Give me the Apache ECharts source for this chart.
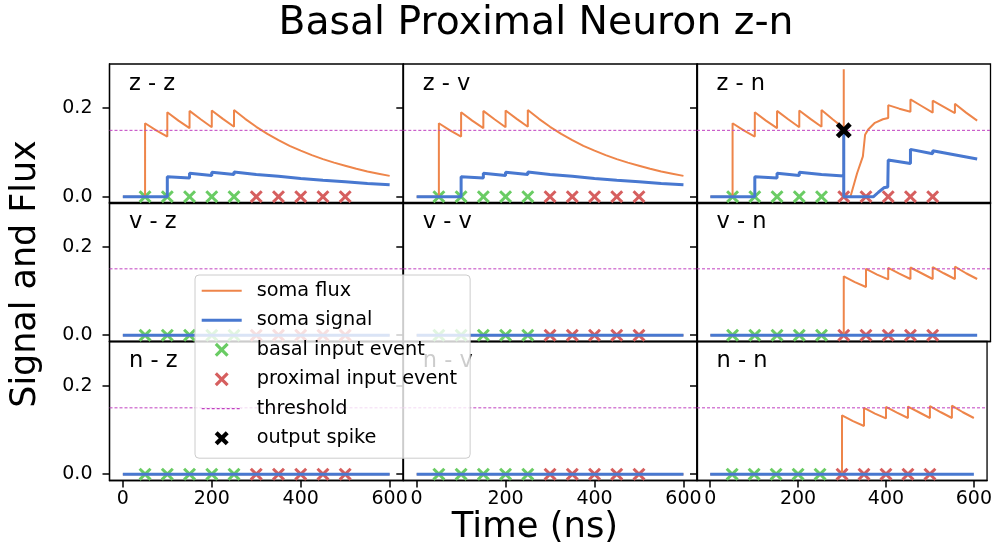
<!DOCTYPE html>
<html>
<head>
<meta charset="utf-8">
<script src="https://cdn.jsdelivr.net/npm/echarts@6/dist/echarts.min.js"></script>
<style>html,body{margin:0;padding:0;background:#fff}#c{width:995px;height:552px}</style>
</head>
<body>
<div id="c"></div>
<script>
// ---------------- data ----------------
const panelLabels = ['z - z', 'z - v', 'z - n', 'v - z', 'v - v', 'v - n', 'n - z', 'n - v', 'n - n'];
const xTicks = [0, 200, 400, 600];
const yTicks = [0, 0.2];
const basalTimes = [50, 100, 150, 200, 250];
const proximalTimes = [300, 350, 400, 450, 500];
const eventLevel = 0;
const threshold = 0.15;
const outputSpikeZN = [[300, 0.15]];

const fluxZZ = [[0,0],[50,0],[50,0.166],[75,0.150],[100,0.136],[100,0.191],[125,0.172],[150,0.155],[150,0.194],[175,0.175],[200,0.157],[200,0.195],[225,0.176],[250,0.158],[250,0.196],
  [275,0.176],[300,0.158],[325,0.142],[350,0.128],[375,0.115],[400,0.104],[425,0.094],[450,0.085],[475,0.077],[500,0.070],[525,0.063],[550,0.057],[575,0.052],[600,0.047]];
const signalZZ = [[0,0],[100,0],[100,0.045],[150,0.042],[150,0.053],[200,0.048],[200,0.055],[250,0.050],[250,0.056],
  [300,0.050],[350,0.046],[400,0.041],[450,0.037],[500,0.034],[550,0.030],[600,0.027]];
const fluxZN = [[0,0],[50,0],[50,0.166],[75,0.150],[100,0.136],[100,0.191],[125,0.172],[150,0.155],[150,0.194],[175,0.175],[200,0.157],[200,0.195],[225,0.176],[250,0.158],[250,0.196],
  [275,0.175],[300,0.155],[300,0.288],[300,0],[315,0],[330,0.053],[343,0.091],[348,0.140],[355,0.152],[370,0.167],[388,0.175],[400,0.178],[400,0.207],[425,0.199],[450,0.192],[450,0.220],
  [475,0.205],[500,0.190],[500,0.217],[525,0.203],[550,0.189],[550,0.210],[575,0.190],[600,0.172]];
const signalZN = [[0,0],[100,0],[100,0.045],[150,0.042],[150,0.053],[200,0.048],[200,0.055],[250,0.050],[250,0.053],[300,0.047],[300,0.148],[300,0],
  [367,0],[378,0.010],[390,0.020],[399,0.022],[400,0.083],[450,0.075],[450,0.107],[500,0.097],[500,0.104],[600,0.085]];
const fluxVN = [[0,0],[300,0],[300,0.133],[325,0.120],[350,0.109],[350,0.150],[375,0.137],[400,0.126],[400,0.152],[425,0.139],[450,0.127],[450,0.153],
  [475,0.140],[500,0.127],[500,0.154],[525,0.140],[550,0.127],[550,0.155],[575,0.140],[600,0.127]];
const zeroLine = [[0,0],[600,0]];

const panelFlux = [fluxZZ, fluxZZ, fluxZN, zeroLine, zeroLine, fluxVN, zeroLine, zeroLine, fluxVN];
const panelSignal = [signalZZ, signalZZ, signalZN, zeroLine, zeroLine, zeroLine, zeroLine, zeroLine, zeroLine];
const panelSpikes = [[], [], outputSpikeZN, [], [], [], [], [], []];

// ---------------- layout / style ----------------
const FONT = 'DejaVu Sans';
const colLeft = [109.5, 403.3, 697];
const colWidth = 293.5;
const rowTop = [64, 202.5, 341.5];
const rowHeight = 139;
const xMin = -30, xMax = 630, yMin = -0.0143, yMax = 0.3;
const C_FLUX = '#EE854A', C_SIG = '#4878D0', C_BASAL = '#6ACC64', C_PROX = '#D65F5F', C_THR = '#C040C0';
const xPath = 'path://M0,1.6L1.6,0L5,3.4L8.4,0L10,1.6L6.6,5L10,8.4L8.4,10L5,6.6L1.6,10L0,8.4L3.4,5Z';
const xPathBold = 'path://M0,2.1L2.1,0L5,2.9L7.9,0L10,2.1L7.1,5L10,7.9L7.9,10L5,7.1L2.1,10L0,7.9L2.9,5Z';
const iconThin = 'path://M0,0L40,0L40,2L0,2Z';
const iconThick = 'path://M0,0L40,0L40,3L0,3Z';
const iconDash = 'path://M0,0L3,0L3,1.2L0,1.2ZM5,0L8,0L8,1.2L5,1.2ZM10,0L13,0L13,1.2L10,1.2ZM15,0L18,0L18,1.2L15,1.2ZM20,0L23,0L23,1.2L20,1.2ZM25,0L28,0L28,1.2L25,1.2ZM30,0L33,0L33,1.2L30,1.2ZM35,0L38,0L38,1.2L35,1.2ZM39.9,0L40,0L40,1.2L39.9,1.2Z';

const tickStyle = {color: '#000', width: 1.5};
const grids = [], xAxes = [], yAxes = [], series = [], graphics = [];
for (let k = 0; k < 9; k++) {
  const r = Math.floor(k / 3), c = k % 3;
  grids.push({left: colLeft[c], top: rowTop[r], width: colWidth, height: rowHeight, show: true,
    borderColor: '#000', borderWidth: 1.3, backgroundColor: 'transparent'});
  xAxes.push({type: 'value', gridIndex: k, min: xMin, max: xMax, position: 'bottom',
    axisLine: {show: true, onZero: false, lineStyle: {color: '#000', width: 1.3}}, splitLine: {show: false},
    axisTick: {show: r === 2, customValues: xTicks, length: 7, lineStyle: tickStyle},
    axisLabel: {show: r === 2, customValues: xTicks, fontSize: 19, fontFamily: FONT, color: '#000', margin: 9}});
  yAxes.push({type: 'value', gridIndex: k, min: yMin, max: yMax, position: 'left',
    axisLine: {show: true, onZero: false, lineStyle: {color: '#000', width: 1.3}}, splitLine: {show: false},
    axisTick: {show: true, customValues: yTicks, length: 7, lineStyle: tickStyle},
    axisLabel: {show: c === 0, customValues: yTicks, fontSize: 19, fontFamily: FONT, color: '#000', margin: 17,
      formatter: v => v.toFixed(1)}});
  series.push({name: 'basal input event', type: 'scatter', xAxisIndex: k, yAxisIndex: k, z: 2,
    symbol: xPath, symbolSize: 13, itemStyle: {color: C_BASAL, opacity: 1},
    data: basalTimes.map(t => [t, eventLevel]), silent: true});
  series.push({name: 'proximal input event', type: 'scatter', xAxisIndex: k, yAxisIndex: k, z: 2,
    symbol: xPath, symbolSize: 13, itemStyle: {color: C_PROX, opacity: 1},
    data: proximalTimes.map(t => [t, eventLevel]), silent: true});
  series.push({name: 'soma flux', type: 'line', xAxisIndex: k, yAxisIndex: k, z: 3,
    symbol: 'none', showSymbol: false,
    lineStyle: {color: C_FLUX, width: 2}, itemStyle: {color: C_FLUX}, data: panelFlux[k]});
  series.push({name: 'soma signal', type: 'line', xAxisIndex: k, yAxisIndex: k, z: 3,
    symbol: 'none', showSymbol: false,
    lineStyle: {color: C_SIG, width: 3}, itemStyle: {color: C_SIG}, data: panelSignal[k]});
  series.push({name: 'threshold', type: 'line', xAxisIndex: k, yAxisIndex: k, z: 3,
    symbol: 'none', showSymbol: false, silent: true,
    lineStyle: {color: C_THR, width: 1, type: [3, 2]}, itemStyle: {color: C_THR},
    data: [[xMin, threshold], [xMax, threshold]]});
  series.push({name: 'output spike', type: 'scatter', xAxisIndex: k, yAxisIndex: k, z: 5,
    symbol: xPathBold, symbolSize: 16, itemStyle: {color: '#000', opacity: 1}, data: panelSpikes[k]});
  graphics.push({type: 'text', z: 1, x: colLeft[c] + 19.5, y: rowTop[r] + 20,
    style: {text: panelLabels[k], fontSize: 22.5, fontFamily: FONT, fill: '#000',
      textAlign: 'left', textVerticalAlign: 'middle'}});
}
graphics.push({type: 'text', z: 1, x: 536, y: 24,
  style: {text: 'Basal Proximal Neuron z-n', fontSize: 39.3, fontFamily: FONT, fill: '#000', textAlign: 'center', textVerticalAlign: 'middle'}});
graphics.push({type: 'text', z: 1, x: 26, y: 274, rotation: Math.PI / 2,
  style: {text: 'Signal and Flux', fontSize: 34.9, fontFamily: FONT, fill: '#000', textAlign: 'center', textVerticalAlign: 'middle'}});
graphics.push({type: 'text', z: 1, x: 535, y: 528,
  style: {text: 'Time (ns)', fontSize: 35.4, fontFamily: FONT, fill: '#000', textAlign: 'center', textVerticalAlign: 'middle'}});

const chart = echarts.init(document.getElementById('c'), null, {renderer: 'canvas'});
chart.setOption({
  animation: false,
  backgroundColor: '#fff',
  grid: grids, xAxis: xAxes, yAxis: yAxes, series: series, graphic: graphics,
  legend: {
    z: 20, orient: 'vertical', left: 195, top: 275,
    data: [{name: 'soma flux', icon: iconThin}, {name: 'soma signal', icon: iconThick},
      {name: 'basal input event'}, {name: 'proximal input event'},
      {name: 'threshold', icon: iconDash}, {name: 'output spike'}],
    itemWidth: 40, itemHeight: 14, itemGap: 7.5,
    padding: [4.7, 13, 9, 6.7],
    backgroundColor: 'rgba(255,255,255,0.8)', borderColor: '#cccccc', borderWidth: 1, borderRadius: 4,
    selectedMode: false,
    textStyle: {fontSize: 19.3, fontFamily: FONT, color: '#000', lineHeight: 22, padding: [0, 0, 0, 10]}
  }
});
</script>
</body>
</html>
